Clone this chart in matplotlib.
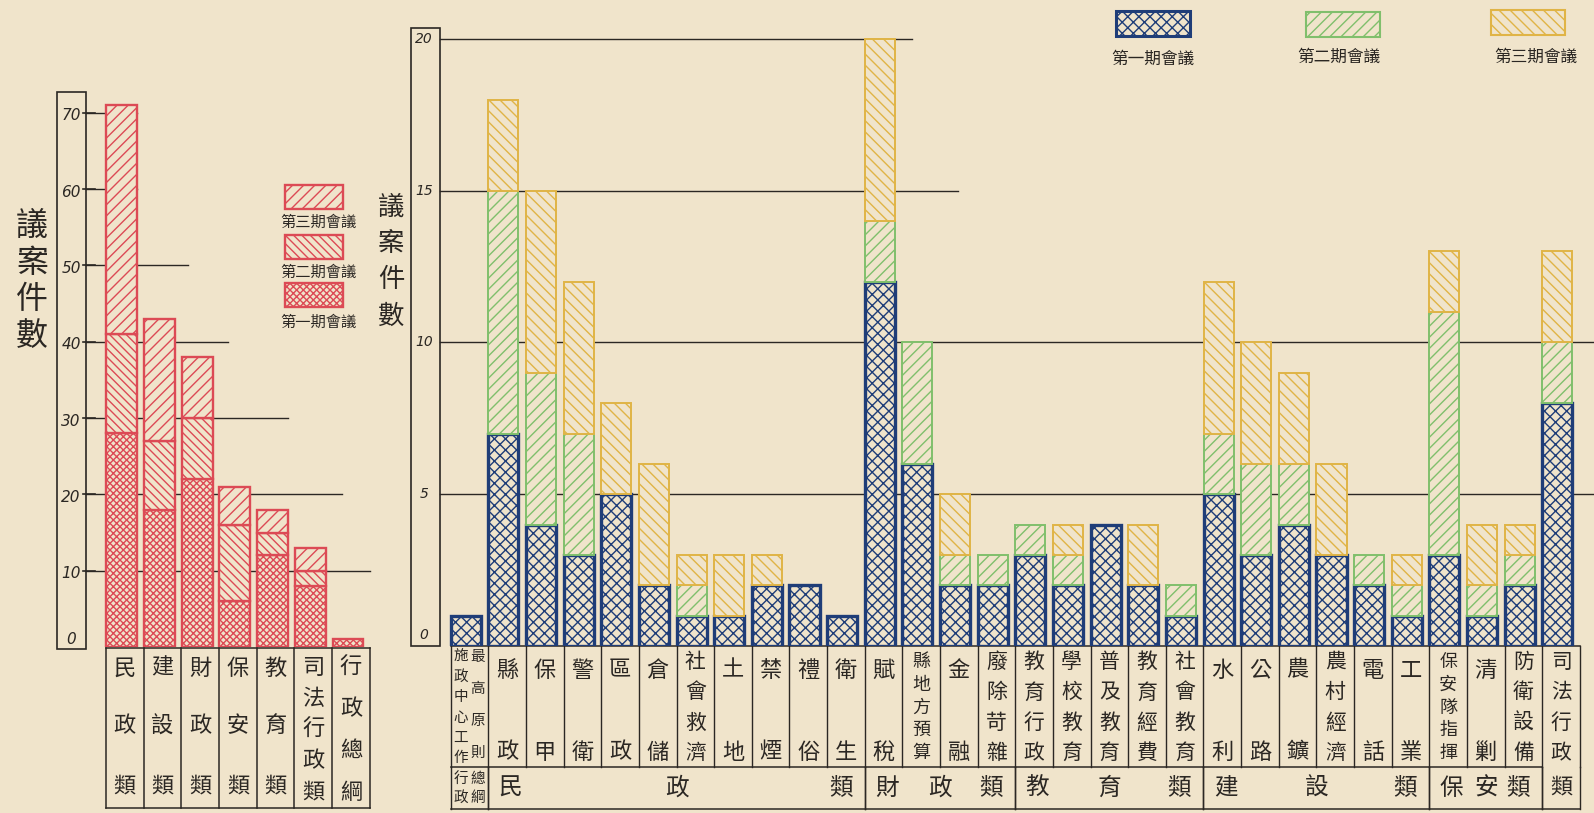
import numpy as np
import matplotlib.pyplot as plt
from matplotlib.patches import Rectangle

plt.rcParams['font.family'] = ['Noto Sans CJK TC', 'DejaVu Sans']
plt.rcParams['hatch.linewidth'] = 1.0

W, H = 1594, 813
PAPER = '#f0e4cb'
INK = '#2b2723'
RED = '#dc4a55'
BLUE = '#1f3d78'
GREEN = '#80bf6c'
YELLOW = '#e0b446'

sessions = ['第一期會議', '第二期會議', '第三期會議']

# left chart: totals by class
left_cats = ['民政類', '建設類', '財政類', '保安類', '教育類', '司法行政類', '行政總綱']
left_p1 = [28, 18, 22, 6, 12, 8, 1]
left_p2 = [13, 9, 8, 10, 3, 2, 0]
left_p3 = [30, 16, 8, 5, 3, 3, 0]
left_ticks = [0, 10, 20, 30, 40, 50, 60, 70]

# right chart: by item
right_cats = ['最高原則施政中心工作', '縣政', '保甲', '警衛', '區政', '倉儲', '社會救濟',
              '土地', '禁煙', '禮俗', '衛生', '賦稅', '縣地方預算', '金融', '廢除苛雜',
              '教育行政', '學校教育', '普及教育', '教育經費', '社會教育', '水利', '公路',
              '農鑛', '農村經濟', '電話', '工業', '保安隊指揮', '清剿', '防衛設備', '司法行政']
right_p1 = [1, 7, 4, 3, 5, 2, 1, 1, 2, 2, 1, 12, 6, 2, 2, 3, 2, 4, 2, 1, 5, 3, 4, 3, 2, 1, 3, 1, 2, 8]
right_p2 = [0, 8, 5, 4, 0, 0, 1, 0, 0, 0, 0, 2, 4, 1, 1, 1, 1, 0, 0, 1, 2, 3, 2, 0, 1, 1, 8, 1, 1, 2]
right_p3 = [0, 3, 6, 5, 3, 4, 1, 2, 1, 0, 0, 6, 0, 2, 0, 0, 1, 0, 2, 0, 5, 4, 3, 3, 0, 1, 2, 2, 1, 3]
right_ticks = [0, 5, 10, 15, 20]
# group name, first column, last column (exclusive)
right_groups = [('行政總綱', 0, 1), ('民政類', 1, 11), ('財政類', 11, 15), ('教育類', 15, 20),
                ('建設類', 20, 26), ('保安類', 26, 29), ('類', 29, 30)]

# hatches per session
RED_HATCH = ['xxxxx', '\\\\\\\\', '///']
RIGHT_HATCH = ['xxx', '///', '\\\\\\']

fig = plt.figure(figsize=(W / 100, H / 100), dpi=100, facecolor=PAPER)


def add_px_axes(x0, y0, x1, y1):
    return fig.add_axes([x0 / W, 1 - y1 / H, (x1 - x0) / W, (y1 - y0) / H])


ov = add_px_axes(0, 0, W, H)
ov.set_xlim(0, W)
ov.set_ylim(H, 0)
ov.axis('off')


def vtext(ax, x, ys, s, size, **kw):
    for ch, y in zip(s, ys):
        ax.text(x, y, ch, ha='center', va='center', fontsize=size, color=INK, **kw)


def stacked(ax, x, layers, width, styles):
    bottom = np.zeros(len(x))
    for vals, (col, hatch, lw) in zip(layers, styles):
        vals = np.array(vals, dtype=float)
        keep = vals > 0
        ax.bar(x[keep], vals[keep], width, bottom=bottom[keep], color=PAPER,
               edgecolor=col, hatch=hatch, linewidth=lw, zorder=3)
        bottom += vals


# ---------------- left chart ----------------
L_COL0, L_COLW = 106, 37.7
L_BASE, L_SCALE = 647, 7.63
axL = add_px_axes(40, 92, 400, L_BASE)
axL.set_xlim((40 - L_COL0) / L_COLW, (400 - L_COL0) / L_COLW)
axL.set_ylim(0, (L_BASE - 92) / L_SCALE)
axL.axis('off')
xl = lambda px: (px - L_COL0) / L_COLW

stacked(axL, np.arange(len(left_cats)) + 0.42, [left_p1, left_p2, left_p3], 0.82,
        [(RED, h, 1.7) for h in RED_HATCH])

axL.add_patch(Rectangle((xl(57), -0.25), xl(86) - xl(57), (L_BASE - 92) / L_SCALE + 0.25,
                        fill=False, edgecolor=INK, lw=1.2, clip_on=False))
left_grid_end = {70: 137, 60: 137, 50: 188, 40: 228, 30: 288, 20: 342, 10: 370}
for v in left_ticks:
    lab_y = 1.0 if v == 0 else v - 0.4
    axL.text(xl(71), lab_y, str(v), ha='center', va='center', fontsize=11,
             style='italic', family='DejaVu Sans', color=INK)
    if v > 0:
        axL.plot([xl(86), xl(left_grid_end[v])], [v, v], color=INK, lw=1.0, zorder=1)
        axL.plot([xl(83), xl(95)], [v, v], color=INK, lw=1.2, zorder=1)

# left y label
vtext(ov, 32, np.linspace(226, 336, 4), '議案件數', 23)

# left legend
for (y0, hatch), name, ly in zip([(283, RED_HATCH[0]), (235, RED_HATCH[1]), (185, RED_HATCH[2])],
                                 sessions, [322, 272, 222]):
    ov.add_patch(Rectangle((285, y0), 58, 24, facecolor=PAPER, edgecolor=RED,
                           hatch=hatch, lw=1.7))
    ov.text(318, ly, name, ha='center', va='center', fontsize=11, color=INK)

# left table
lt_top, lt_bot = 648, 808
n_left = len(left_cats)
ov.plot([L_COL0, L_COL0 + n_left * L_COLW], [lt_top, lt_top], color=INK, lw=1.1)
ov.plot([L_COL0, L_COL0 + n_left * L_COLW], [lt_bot, lt_bot], color=INK, lw=1.1)
for i in range(n_left + 1):
    xe = L_COL0 + i * L_COLW
    ov.plot([xe, xe], [lt_top, lt_bot], color=INK, lw=1.1)
for i, name in enumerate(left_cats):
    xc = L_COL0 + (i + 0.5) * L_COLW
    if len(name) == 3:
        ys = [668, 726, 786]
    else:
        ys = np.linspace(667, 792, len(name))
    vtext(ov, xc, ys, name, 16)

# ---------------- right chart ----------------
R_COL0, R_COLW = 450.7, 37.64
R_BASE, R_SCALE = 646, 30.35
axR = add_px_axes(400, 28, W, R_BASE)
axR.set_xlim((400 - R_COL0) / R_COLW, (W - R_COL0) / R_COLW)
axR.set_ylim(0, (R_BASE - 28) / R_SCALE)
axR.axis('off')
xr = lambda px: (px - R_COL0) / R_COLW

stacked(axR, np.arange(len(right_cats)) + 0.4, [right_p1, right_p2, right_p3], 0.8,
        [(BLUE, RIGHT_HATCH[0], 2.4), (GREEN, RIGHT_HATCH[1], 1.4), (YELLOW, RIGHT_HATCH[2], 1.4)])

axR.add_patch(Rectangle((xr(411), 0), xr(440) - xr(411), (R_BASE - 28) / R_SCALE,
                        fill=False, edgecolor=INK, lw=1.2, clip_on=False))
right_grid_end = {20: 912, 15: 958, 10: W, 5: W}
for v in right_ticks:
    lab_y = 0.35 if v == 0 else v
    axR.text(xr(424), lab_y, str(v), ha='center', va='center', fontsize=10,
             style='italic', family='DejaVu Sans', color=INK)
    if v > 0:
        axR.plot([xr(440), xr(right_grid_end[v])], [v, v], color=INK, lw=1.0, zorder=1)

vtext(ov, 391, np.linspace(207, 316, 4), '議案件數', 19)

# right legend
for (x0, y0, col), hatch, name, (lx, ly) in zip(
        [(1116, 11, BLUE), (1306, 12, GREEN), (1491, 10, YELLOW)], RIGHT_HATCH,
        sessions, [(1153, 59), (1339, 57), (1536, 57)]):
    ov.add_patch(Rectangle((x0, y0), 74, 25, facecolor=PAPER, edgecolor=col,
                           hatch=hatch, lw=2.2 if col == BLUE else 1.5))
    ov.text(lx, ly, name, ha='center', va='center', fontsize=12, color=INK)

# right table
rt_top, rt_mid, rt_bot = 646, 767, 809
n_right = len(right_cats)
edge = lambda i: R_COL0 + i * R_COLW
ov.plot([edge(0), edge(n_right)], [rt_top, rt_top], color=INK, lw=1.1)
ov.plot([edge(0), edge(n_right - 1)], [rt_mid, rt_mid], color=INK, lw=1.1)
ov.plot([edge(0), edge(n_right)], [rt_bot, rt_bot], color=INK, lw=1.1)
for i in range(n_right + 1):
    ov.plot([edge(i), edge(i)], [rt_top, rt_mid], color=INK, lw=1.0)
for name, a, b in right_groups:
    for i in (a, b):
        ov.plot([edge(i), edge(i)], [rt_mid, rt_bot], color=INK, lw=1.0)

for i, name in enumerate(right_cats):
    xc = edge(i) + 0.5 * R_COLW
    if i == 0:
        vtext(ov, xc + 8, np.linspace(657, 753, 4), name[:4], 10.5)
        vtext(ov, xc - 9, np.linspace(657, 758, 6), name[4:], 10.5)
    elif len(name) == 2:
        vtext(ov, xc, [670, 752], name, 16)
    else:
        size = 13 if len(name) >= 5 else 15
        vtext(ov, xc, np.linspace(662, 753, len(name)), name, size)

for name, a, b in right_groups:
    if name == '行政總綱':
        xc = edge(a) + 0.5 * R_COLW
        vtext(ov, xc - 9, [779, 798], name[:2], 10.5)
        vtext(ov, xc + 8, [779, 798], name[2:], 10.5)
    elif len(name) == 1:
        vtext(ov, edge(a) + 0.5 * R_COLW, [787], name, 16)
    else:
        xs = [edge(a) + 22, (edge(a) + edge(b)) / 2, edge(b) - 24]
        for ch, x in zip(name, xs):
            ov.text(x, 788, ch, ha='center', va='center', fontsize=17, color=INK)

fig.savefig('out.png', dpi=100, facecolor=PAPER)
